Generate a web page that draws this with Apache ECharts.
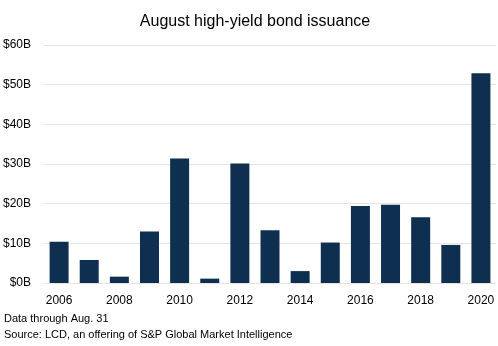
<!DOCTYPE html>
<html>
<head>
<meta charset="utf-8">
<script src="https://cdn.jsdelivr.net/npm/echarts@6/dist/echarts.min.js"></script>
<style>
  html, body { margin: 0; padding: 0; background: #fff; }
  #chart { width: 498px; height: 346px; }
</style>
</head>
<body>
<div id="chart"></div>
<script>
// August high-yield bond issuance, $ billions
const years = ['2006','2007','2008','2009','2010','2011','2012','2013','2014','2015','2016','2017','2018','2019','2020'];
const issuance = [10.4, 5.8, 1.6, 13.0, 31.4, 1.1, 30.1, 13.3, 3.0, 10.2, 19.4, 19.7, 16.6, 9.6, 52.9];
const yTicks = [0, 10, 20, 30, 40, 50, 60];

const font = 'Liberation Sans, Arial, sans-serif';
const chart = echarts.init(document.getElementById('chart'), null, { renderer: 'canvas' });
chart.setOption({
  animation: false,
  title: {
    text: 'August high-yield bond issuance',
    left: 250, top: 9, textAlign: 'center',
    textStyle: { fontFamily: font, fontSize: 16, fontWeight: 'normal', color: '#000' }
  },
  graphic: [
    { type: 'text', left: 4, top: 313, style: { text: 'Data through Aug. 31', font: '11px ' + font, fill: '#000' } },
    { type: 'text', left: 4, top: 329, style: { text: 'Source: LCD, an offering of S&P Global Market Intelligence', font: '11px ' + font, fill: '#000' } }
  ],
  grid: { left: 44, right: 2, top: 45, bottom: 63 },
  xAxis: {
    type: 'category', data: years,
    axisLine: { show: false }, axisTick: { show: false },
    axisLabel: { interval: 1, margin: 12, fontFamily: font, fontSize: 12, color: '#000' }
  },
  yAxis: {
    type: 'value', min: yTicks[0], max: yTicks[yTicks.length - 1], interval: 10,
    axisLine: { show: false }, axisTick: { show: false },
    splitLine: { lineStyle: { color: '#e4e4e4', width: 1 } },
    axisLabel: { margin: 13, fontFamily: font, fontSize: 12, color: '#000', formatter: v => '$' + v + 'B' }
  },
  series: [{
    type: 'bar', data: issuance, barWidth: '63%',
    itemStyle: { color: '#0e2f50' }
  }]
});
</script>
</body>
</html>
